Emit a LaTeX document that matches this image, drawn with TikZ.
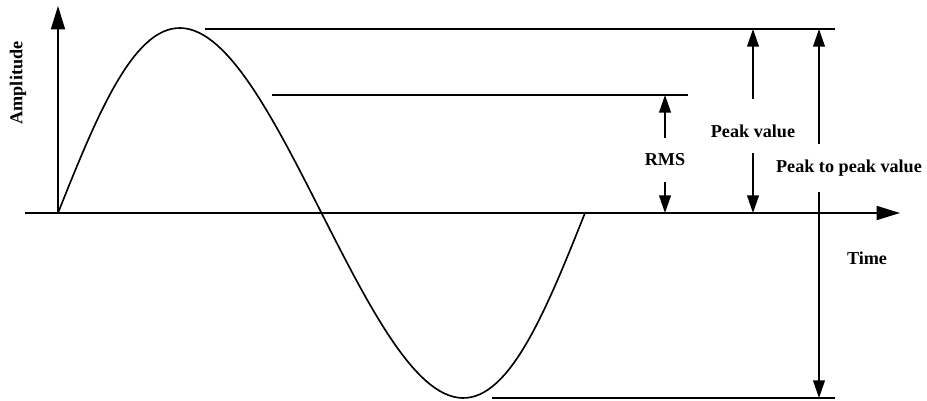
\documentclass[tikz,border=0pt]{standalone}
\usepackage{fontspec}
\setmainfont{Liberation Serif}
\usetikzlibrary{arrows.meta,calc}

\tikzset{
  lbl/.style={font=\bfseries\fontsize{15.5}{16}\selectfont,inner sep=1pt},
  axistip/.style={-{Triangle[length=20pt,width=12pt]}},
  dimtip/.style={-{Triangle[length=15pt,width=10pt]},shorten <=12pt},
}

\begin{document}
\begin{tikzpicture}[x=0.03cm,y=-0.03cm,line width=1.4pt]
\useasboundingbox (0,0) rectangle (927,401);

% Define the points of the axes.
\coordinate (Xa) at (25,213);
\coordinate (Xb) at (900,213);
\coordinate (O) at (58,213);
\coordinate (Yb) at (58,6);

% Define the ends of the level lines.
\coordinate (Ta) at (205,29);
\coordinate (Tb) at (835,29);
\coordinate (Ra) at (272,95);
\coordinate (Rb) at (688,95);
\coordinate (Ba) at (492,398);
\coordinate (Bb) at (835,398);

% Points where the measuring arrows end.
\coordinate (Rtop) at (665,95);
\coordinate (Rbot) at (665,213);
\coordinate (Ptop) at (753,29);
\coordinate (Pbot) at (753,213);
\coordinate (Qtop) at (819,29);
\coordinate (Qbot) at (819,398);

% Draw the axes.
\draw[axistip] (Xa) -- (Xb);
\draw[axistip] (O) -- (Yb);

% Draw the wave.
\draw plot[domain=0:360,samples=120,variable=\t]
  ({58+1.4639*\t-10*sin(\t)},{213-185*sin(\t)});

% Draw the level lines.
\draw (Ta) -- (Tb);
\draw (Ra) -- (Rb);
\draw (Ba) -- (Bb);

% Labels.
\node[lbl,rotate=90] (amp) at (18,83) {Amplitude};
\node[lbl] (time) at (867,258) {Time};
\node[lbl] (rms) at (665,160) {RMS};
\node[lbl] (peak) at (753,131) {Peak value};
\node[lbl] (p2p) at (849,168) {Peak to peak value};

% Draw the measuring arrows.
\draw[dimtip] (rms) -- (Rtop);
\draw[dimtip] (rms) -- (Rbot);
\draw[dimtip,shorten <=20pt] (peak) -- (Ptop);
\draw[dimtip] (peak) -- (Pbot);
\draw[dimtip] (p2p.north -| Qtop) -- (Qtop);
\draw[dimtip] (p2p.south -| Qbot) -- (Qbot);

\end{tikzpicture}
\end{document}
